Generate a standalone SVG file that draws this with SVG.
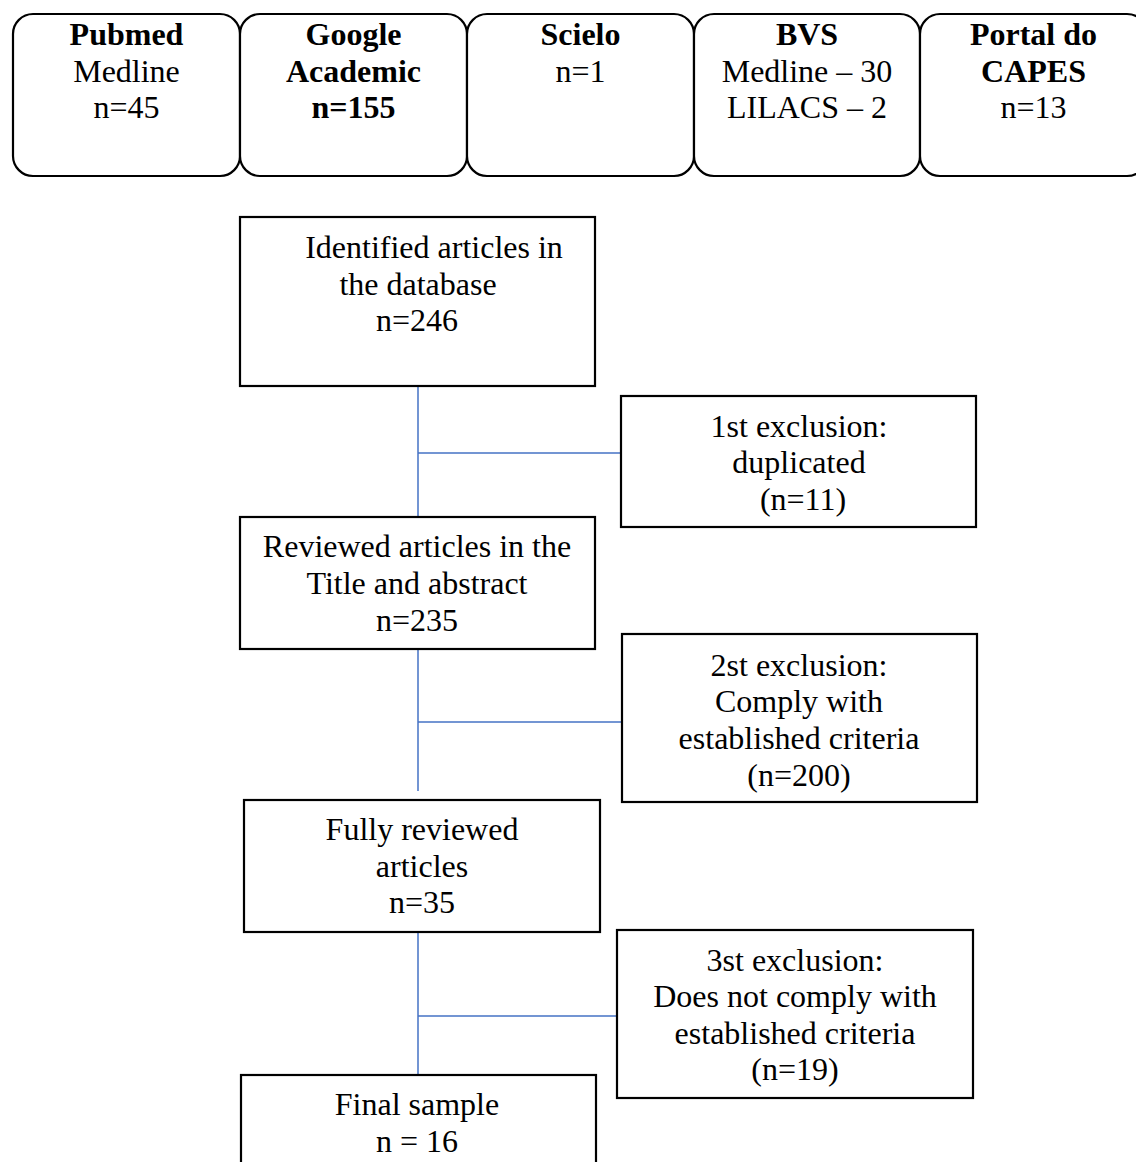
<svg xmlns="http://www.w3.org/2000/svg" width="1136" height="1162" viewBox="0 0 1136 1162">
<style>
text{font-family:"Liberation Serif","Times New Roman",serif;font-size:32px;fill:#000;text-anchor:middle}
.b{font-weight:bold}
.src{fill:#fff;stroke:#000;stroke-width:2.2}
.box{fill:#fff;stroke:#000;stroke-width:2.2}
.con{stroke:#4472C4;stroke-width:1.5;fill:none}
</style>
<rect width="1136" height="1162" fill="#fff"/>
<g id="connectors">
<line class="con" x1="418" y1="386" x2="418" y2="517"/>
<line class="con" x1="418" y1="453" x2="621" y2="453"/>
<line class="con" x1="418" y1="649" x2="418" y2="791"/>
<line class="con" x1="418" y1="722" x2="622" y2="722"/>
<line class="con" x1="418" y1="933" x2="418" y2="1075"/>
<line class="con" x1="418" y1="1016" x2="617" y2="1016"/>
</g>
<g id="pubmed">
<rect class="src" x="13" y="14" width="227" height="162" rx="20"/>
<text class="b" x="126.5" y="45">Pubmed</text>
<text x="126.5" y="82">Medline</text>
<text x="126.5" y="118">n=45</text>
</g>
<g id="google">
<rect class="src" x="240" y="14" width="227" height="162" rx="20"/>
<text class="b" x="353.5" y="45">Google</text>
<text class="b" x="353.5" y="82">Academic</text>
<text class="b" x="353.5" y="118">n=155</text>
</g>
<g id="scielo">
<rect class="src" x="467" y="14" width="227" height="162" rx="20"/>
<text class="b" x="580.5" y="45">Scielo</text>
<text x="580.5" y="82">n=1</text>
</g>
<g id="bvs">
<rect class="src" x="694" y="14" width="226" height="162" rx="20"/>
<text class="b" x="807" y="45">BVS</text>
<text x="807" y="82">Medline – 30</text>
<text x="807" y="118">LILACS – 2</text>
</g>
<g id="capes">
<rect class="src" x="920" y="14" width="227" height="162" rx="20"/>
<text class="b" x="1033.5" y="45">Portal do</text>
<text class="b" x="1033.5" y="82">CAPES</text>
<text x="1033.5" y="118">n=13</text>
</g>
<g id="identified">
<rect class="box" x="240" y="217" width="355" height="169"/>
<text x="434" y="258">Identified articles in</text>
<text x="418" y="295">the database</text>
<text x="417" y="331">n=246</text>
</g>
<g id="excl1">
<rect class="box" x="621" y="396" width="355" height="131"/>
<text x="799" y="437">1st exclusion:</text>
<text x="799" y="473">duplicated</text>
<text x="803" y="510">(n=11)</text>
</g>
<g id="reviewed">
<rect class="box" x="240" y="517" width="355" height="132"/>
<text x="417" y="557">Reviewed articles in the</text>
<text x="417" y="594">Title and abstract</text>
<text x="417" y="631">n=235</text>
</g>
<g id="excl2">
<rect class="box" x="622" y="634" width="355" height="168"/>
<text x="799" y="676">2st exclusion:</text>
<text x="799" y="712">Comply with</text>
<text x="799" y="749">established criteria</text>
<text x="799" y="786">(n=200)</text>
</g>
<g id="fully">
<rect class="box" x="244" y="800" width="356" height="132"/>
<text x="422" y="840">Fully reviewed</text>
<text x="422" y="877">articles</text>
<text x="422" y="913">n=35</text>
</g>
<g id="excl3">
<rect class="box" x="617" y="930" width="356" height="168"/>
<text x="795" y="971">3st exclusion:</text>
<text x="795" y="1007">Does not comply with</text>
<text x="795" y="1044">established criteria</text>
<text x="795" y="1080">(n=19)</text>
</g>
<g id="final">
<rect class="box" x="241" y="1075" width="355" height="130"/>
<text x="417" y="1115">Final sample</text>
<text x="417" y="1152">n = 16</text>
</g>
</svg>
